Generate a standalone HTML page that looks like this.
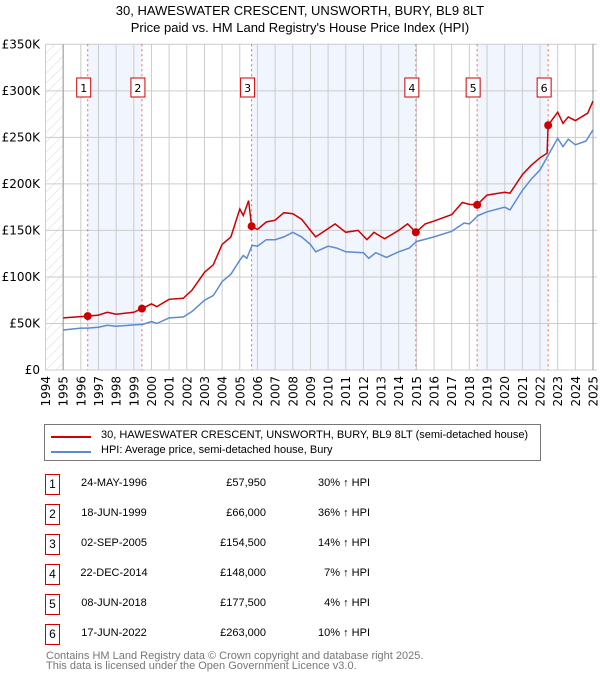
<!DOCTYPE html>
<html><head><meta charset="utf-8"><style>
body{margin:0;width:600px;height:680px;background:#fff;font-family:"Liberation Sans","DejaVu Sans",sans-serif;position:relative;overflow:hidden}
.t{position:absolute;font-size:12px;color:#000;white-space:nowrap}
.box{position:absolute;width:13px;height:19px;border:1.5px solid #c00;font-size:12px;text-align:center;line-height:19px;background:#fff}
</style></head><body>
<div class="t" style="left:0;width:600px;text-align:center;top:3px;font-size:13px">30, HAWESWATER CRESCENT, UNSWORTH, BURY, BL9 8LT</div>
<div class="t" style="left:0;width:600px;text-align:center;top:20px;font-size:13px">Price paid vs. HM Land Registry's House Price Index (HPI)</div>
<svg id="chart" width="600" height="415" style="position:absolute;left:0;top:0">
<defs><pattern id="hatch" width="7" height="7" patternUnits="userSpaceOnUse" patternTransform="rotate(45)"><line x1="0" y1="0" x2="0" y2="7" stroke="#d8d8d8" stroke-width="1"/></pattern></defs>
<g id="bg"></g><g id="grid"></g><g id="marks"></g><g id="labels"></g>
</svg>
<div style="position:absolute;left:44px;top:424px;width:495px;height:35px;border:1px solid #777"></div>
<div style="position:absolute;left:51px;top:436px;width:40px;height:2px;background:#c00"></div>
<div class="t" style="left:101px;top:429px;font-size:11px">30, HAWESWATER CRESCENT, UNSWORTH, BURY, BL9 8LT (semi-detached house)</div>
<div style="position:absolute;left:51px;top:451px;width:40px;height:2px;background:#5b8bd0"></div>
<div class="t" style="left:101px;top:444px;font-size:11px">HPI: Average price, semi-detached house, Bury</div>
<div id="table"></div>
<div class="t" style="left:46px;top:651px;color:#777;font-size:11px;line-height:10px">Contains HM Land Registry data © Crown copyright and database right 2025.<br>This data is licensed under the Open Government Licence v3.0.</div>
<script>
const hpiT=[1995,1996,1996.4,1997,1997.5,1998,1999,1999.5,2000,2000.3,2001,2001.8,2002.3,2003,2003.5,2004,2004.5,2005,2005.2,2005.4,2005.7,2006,2006.5,2007,2007.5,2008,2008.5,2009,2009.3,2010,2010.5,2011,2012,2012.3,2012.7,2013.3,2014,2014.6,2015,2016,2017,2017.7,2018,2018.5,2019,2020,2020.3,2021,2021.5,2022,2022.5,2023,2023.3,2023.6,2024,2024.6,2025];
const hpiV=[43,45,45,46,48,47,48.5,49,52,50,56,57,63,75,80,95,103,118,123,120,134,133,140,140,143,148,143,135,127,133,131,127,126,120,126,121,127,131,138,143,149,158,157,166,170,175,172,193,205,215,232,249,240,248,242,246,258];
const redT=[1995,1996.39,1997,1997.5,1998,1999,1999.46,2000,2000.3,2001,2001.8,2002.3,2003,2003.5,2004,2004.5,2005,2005.2,2005.5,2005.67,2006,2006.5,2007,2007.5,2008,2008.5,2009,2009.3,2010,2010.4,2011,2011.7,2012.2,2012.6,2013.2,2014,2014.5,2014.97,2015.5,2016,2017,2017.6,2018,2018.44,2019,2020,2020.3,2021,2021.5,2022,2022.4,2022.46,2023,2023.3,2023.6,2024,2024.7,2025];
const redV=[56,57.95,59,62,60,62,66,71,68,76,77,86,105,113,135,143,173,166,182,154.5,151,159,161,169,168,162,150,143,152,157,148,150,140,148,141,150,157,148,157,160,167,180,178,177.5,188,191,190,210,220,228,233,263,277,265,272,268,276,289];
const saleT=[1996.39,1999.46,2005.67,2014.97,2018.44,2022.46];
const saleV=[57.95,66,154.5,148,177.5,263];
const saleDates=["24-MAY-1996","18-JUN-1999","02-SEP-2005","22-DEC-2014","08-JUN-2018","17-JUN-2022"];
const salePrices=["£57,950","£66,000","£154,500","£148,000","£177,500","£263,000"];
const saleHpi=["30% ↑ HPI","36% ↑ HPI","14% ↑ HPI","7% ↑ HPI","4% ↑ HPI","10% ↑ HPI"];
const yTicks=[0,50,100,150,200,250,300,350];
const yLabels=["£0","£50K","£100K","£150K","£200K","£250K","£300K","£350K"];
const xTicks=[1994,1995,1996,1997,1998,1999,2000,2001,2002,2003,2004,2005,2006,2007,2008,2009,2010,2011,2012,2013,2014,2015,2016,2017,2018,2019,2020,2021,2022,2023,2024,2025];

const X0=45.5,X1=593,Y0=370,Y1=44.3;
const sx=t=>X0+(t-1994)/31*(X1-X0);
const sy=v=>Y0-v/350*(Y0-Y1);
const NS="http://www.w3.org/2000/svg";
const TF='"DejaVu Sans",sans-serif';
function mk(par,tag,at){const e=document.createElementNS(NS,tag);for(const k in at)e.setAttribute(k,at[k]);document.getElementById(par).appendChild(e);return e;}
let e;
e=mk('bg','rect',{x:X0,y:Y1,width:597-X0,height:Y0-Y1,fill:'#fff'});


e=mk('bg','rect',{x:X0,y:Y1,width:sx(1995)-X0,height:Y0-Y1,fill:'url(#hatch)'});


[[0,1],[2,3],[4,5]].forEach(p=>{
 const r=mk('bg','rect',{x:sx(saleT[p[0]]),y:Y1,width:sx(saleT[p[1]])-sx(saleT[p[0]]),height:Y0-Y1,fill:'#eef3fc',opacity:0.8});
 
 
});
yTicks.forEach((v,i)=>{
 const l=mk('grid','line',{x1:X0,x2:597,y1:sy(v),y2:sy(v),stroke:'#ccc','stroke-width':1});
 
 
 const t=mk('labels','text',{x:40,y:sy(v)+4,'text-anchor':'end','font-size':12,fill:'#000','font-family':TF});
 t.textContent=yLabels[i];
 
 
});
xTicks.forEach(y=>{
 const l=mk('grid','line',{x1:sx(y),x2:sx(y),y1:Y1,y2:Y0,stroke:'#ccc','stroke-width':1});
 
 
 const t=mk('labels','text',{x:0,y:0,'text-anchor':'end','font-size':12,fill:'#000','font-family':TF,transform:`translate(${sx(y)+4.5},376) rotate(-90)`});
 t.textContent=y;
 
 
});
e=mk('grid','line',{x1:sx(1995),x2:sx(1995),y1:Y1,y2:Y0,stroke:'#999'});


e=mk('grid','line',{x1:X1,x2:X1,y1:Y1,y2:Y0,stroke:'#999'});


saleT.forEach((t,i)=>{
 const l=mk('marks','line',{x1:sx(t),x2:sx(t),y1:Y1,y2:Y0,stroke:'#f06060','stroke-dasharray':'2,3','stroke-width':1});
 
 
});
const pts=(T,V)=>T.map((t,i)=>sx(t).toFixed(1)+','+sy(V[i]).toFixed(1)).join(' ');
e=mk('marks','polyline',{points:pts(hpiT,hpiV),fill:'none',stroke:'#5b8bd0','stroke-width':1.5});


e=mk('marks','polyline',{points:pts(redT,redV),fill:'none',stroke:'#cc0000','stroke-width':1.5});


saleT.forEach((t,i)=>{
 const c=mk('marks','circle',{cx:sx(t),cy:sy(saleV[i]),r:4,fill:'#cc0000'});
 
 
 const r=mk('labels','rect',{x:sx(t)-11,y:78,width:14,height:19,fill:'#fff',stroke:'#cc0000','stroke-width':1});
 
 
 const tx=mk('labels','text',{x:sx(t)-4,y:92,'text-anchor':'middle','font-size':11,fill:'#000','font-family':TF});
 tx.textContent=i+1;
 
 
});
const tb=document.getElementById('table');
saleT.forEach((t,i)=>{
 const top=474+i*30;
 const row=document.createElement('div');
 
 
 row.innerHTML=`<div class="box" style="left:45px;top:${top}px">${i+1}</div>`+
 `<div class="t" style="left:70px;width:88px;text-align:center;top:${top+3}px;font-size:11px">${saleDates[i]}</div>`+
 `<div class="t" style="left:166px;width:100px;text-align:right;top:${top+3}px;font-size:11px">${salePrices[i]}</div>`+
 `<div class="t" style="left:270px;width:100px;text-align:right;top:${top+3}px;font-size:11px">${saleHpi[i]}</div>`;
 tb.appendChild(row);
});
</script>
</body></html>
